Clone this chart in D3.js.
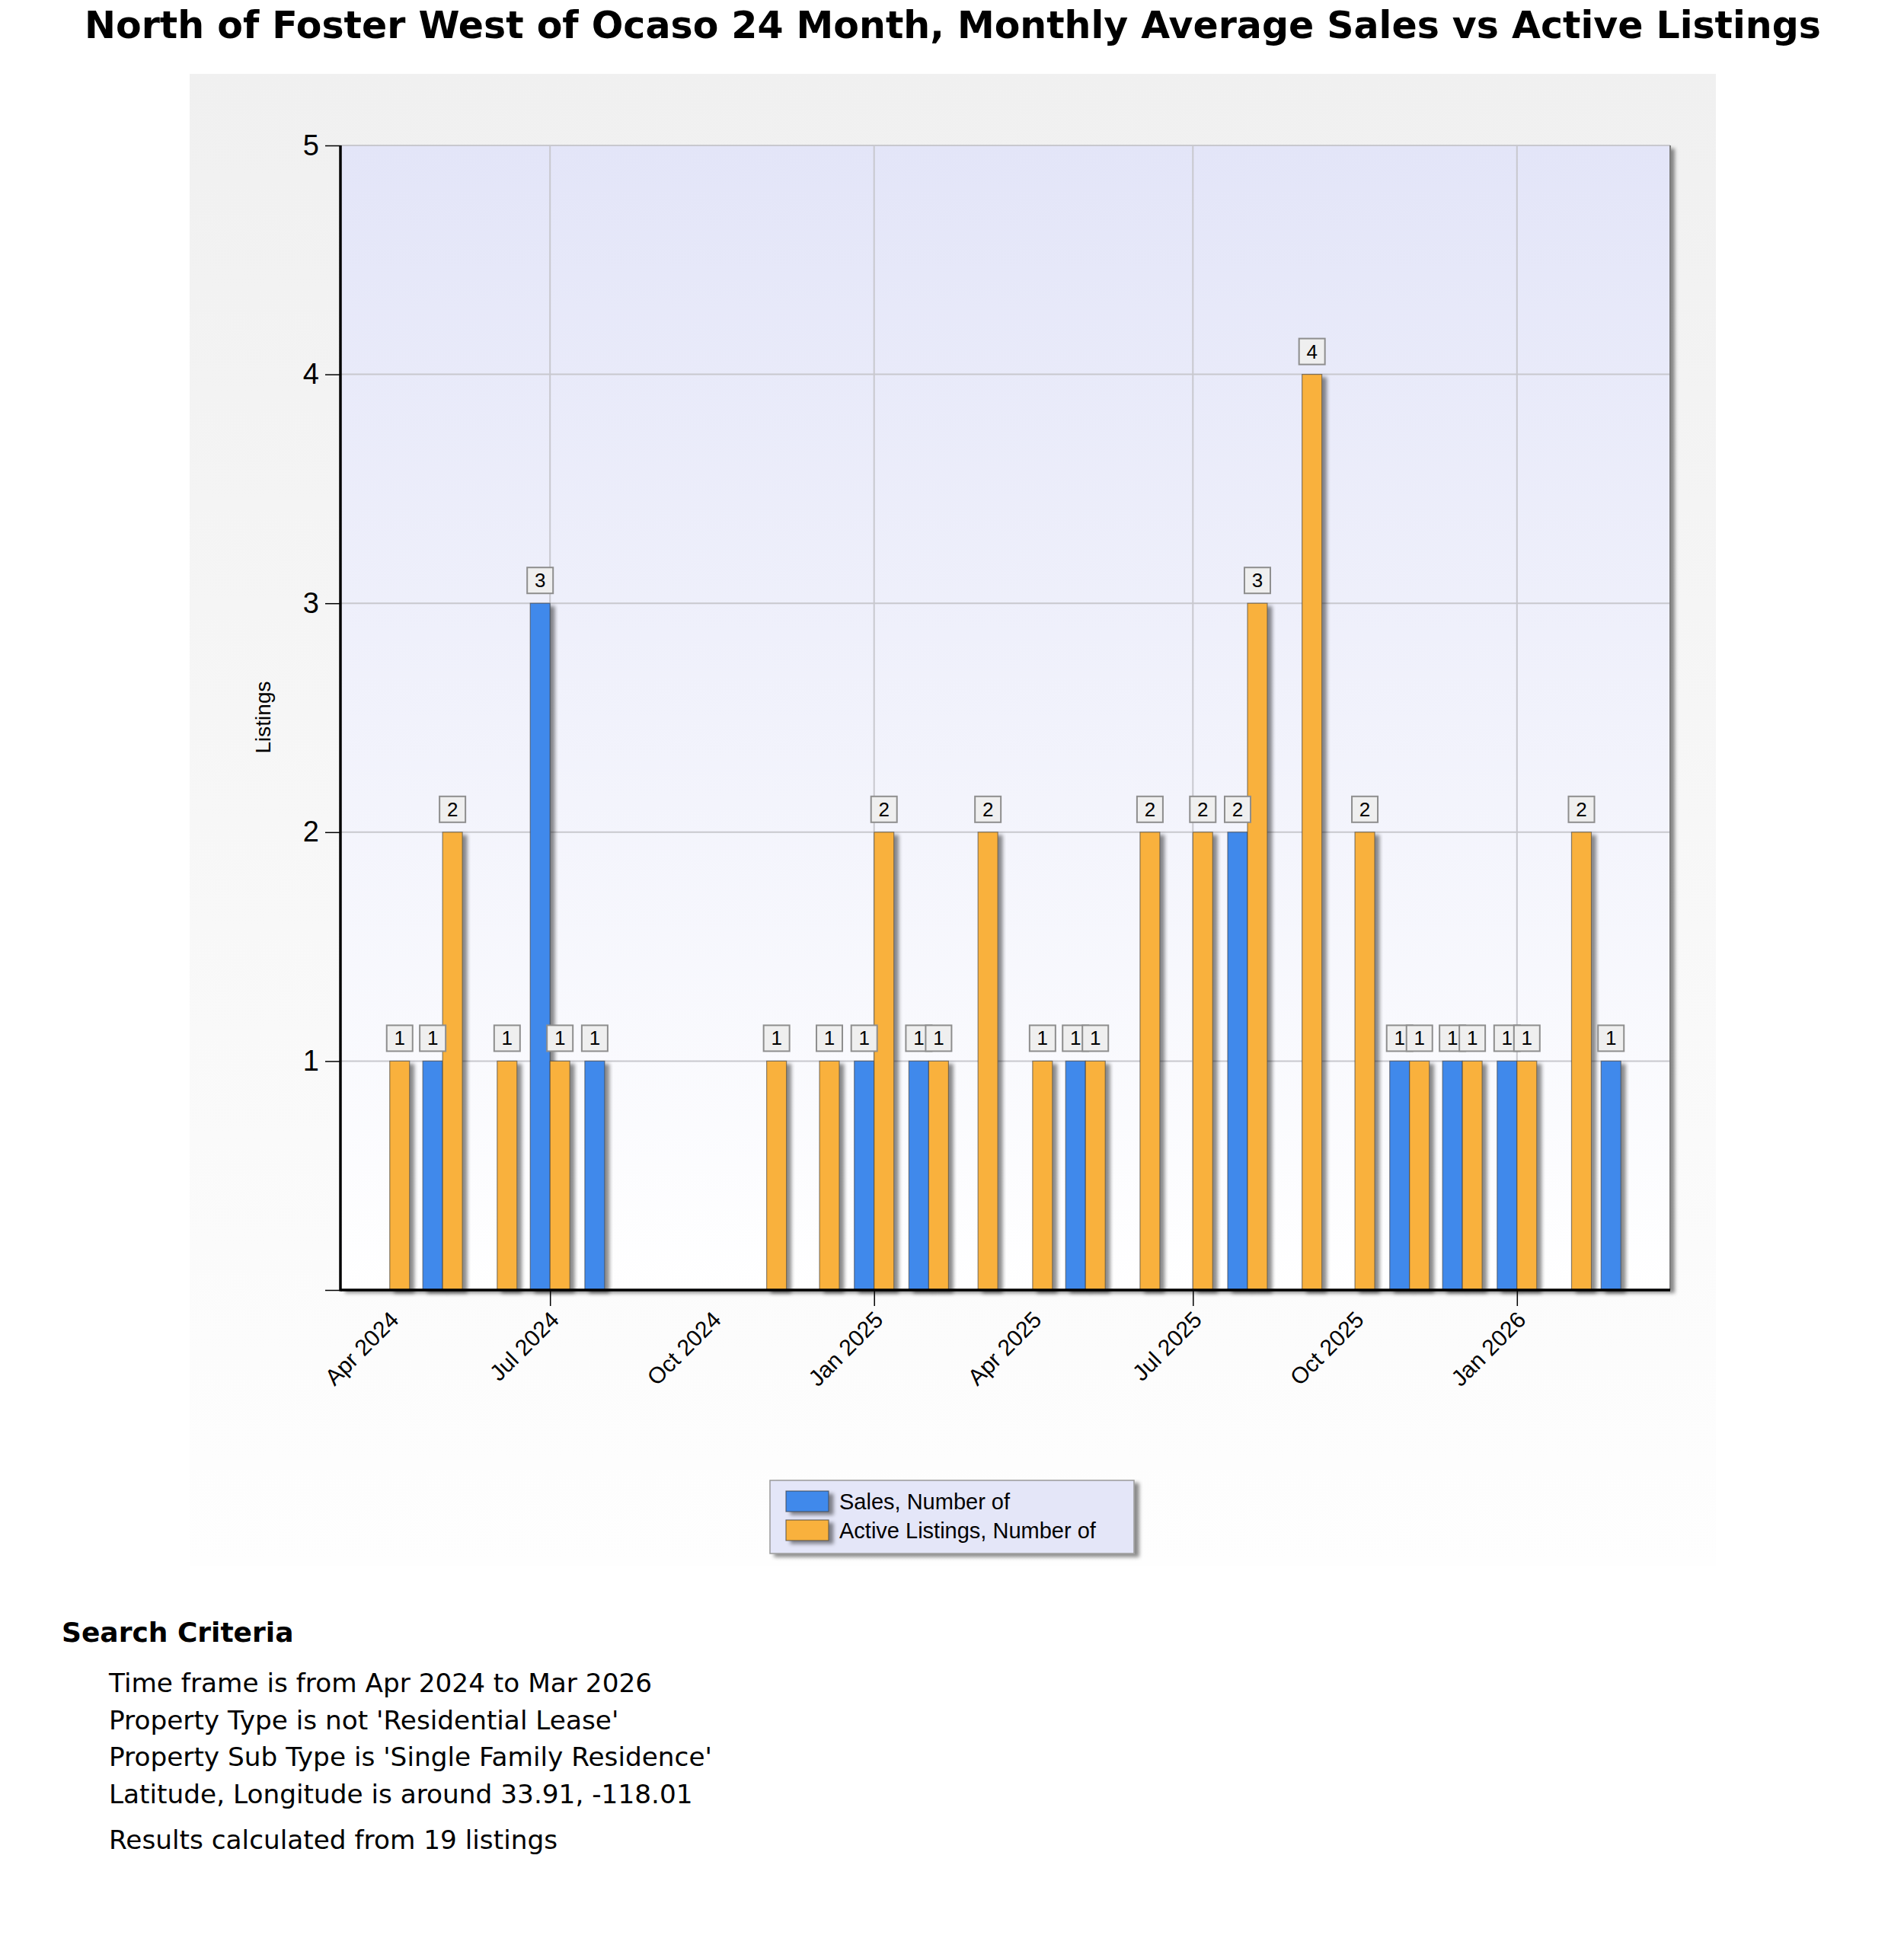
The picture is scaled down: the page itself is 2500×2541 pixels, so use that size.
<!DOCTYPE html>
<html>
<head>
<meta charset="utf-8">
<script src="https://cdn.jsdelivr.net/npm/d3@7"></script>
<style>
  body { margin: 0; background: #fff; }
  #graph { width: 2500px; height: 2541px; }
  .axis text { font-family: "Liberation Sans", Arial, sans-serif; fill: #000; }
  .crit { font-family: "DejaVu Sans", Verdana, sans-serif; fill: #000; }
</style>
</head>
<body>
<div id="graph"></div>
<script>
// data
var months = ["2024-04", "2024-05", "2024-06", "2024-07", "2024-08", "2024-09",
  "2024-10", "2024-11", "2024-12", "2025-01", "2025-02", "2025-03",
  "2025-04", "2025-05", "2025-06", "2025-07", "2025-08", "2025-09",
  "2025-10", "2025-11", "2025-12", "2026-01", "2026-02", "2026-03"];
var sales    = [0, 1, 0, 3, 1, 0, 0, 0, 0, 1, 1, 0, 0, 1, 0, 0, 2, 0, 0, 1, 1, 1, 0, 1];
var listings = [1, 2, 1, 1, 0, 0, 0, 1, 1, 2, 1, 2, 1, 1, 2, 2, 3, 4, 2, 1, 1, 1, 2, 0];
var xTickLabels = ["Apr 2024", "Jul 2024", "Oct 2024", "Jan 2025", "Apr 2025",
  "Jul 2025", "Oct 2025", "Jan 2026"];
var yTicks = [0, 1, 2, 3, 4, 5];
var seriesNames = ["Sales, Number of", "Active Listings, Number of"];
var seriesColors = ["#4189eb", "#f9b13c"];

var titleText = "North of Foster West of Ocaso 24 Month, Monthly Average Sales vs Active Listings";
var criteriaLines = ["Time frame is from Apr 2024 to Mar 2026",
  "Property Type is not 'Residential Lease'",
  "Property Sub Type is 'Single Family Residence'",
  "Latitude, Longitude is around 33.91, -118.01"];
var footText = "Results calculated from 19 listings";

var width = 2500, height = 2541;
var margin = { top: 191, left: 447 };
var chartWidth = 1746, chartHeight = 1503;
var barW = 26;

var parseMonth = d3.timeParse("%Y-%m");
var parseLabel = d3.timeParse("%b %Y");

var svg = d3.select("#graph").append("svg")
  .attr("width", width).attr("height", height);

var defs = svg.append("defs");

var xScale = d3.scaleTime();
var yScale = d3.scaleLinear();

main();

function main() {
  var data = months.map(function(m, i) {
    return { date: parseMonth(m), sales: sales[i], listings: listings[i] };
  });
  initDefs();
  initScale(data);
  renderFrame();
  renderAxis();
  renderChart(data);
  renderLegend();
  renderText();
}

function initDefs() {
  var g1 = defs.append("linearGradient").attr("id", "panelGrad")
    .attr("x1", 0).attr("y1", 0).attr("x2", 0).attr("y2", 1);
  g1.append("stop").attr("offset", "0%").attr("stop-color", "#f0f0f0");
  g1.append("stop").attr("offset", "100%").attr("stop-color", "#fefefe");

  var g2 = defs.append("linearGradient").attr("id", "plotGrad")
    .attr("x1", 0).attr("y1", 0).attr("x2", 0).attr("y2", 1);
  g2.append("stop").attr("offset", "0%").attr("stop-color", "#e3e5f8");
  g2.append("stop").attr("offset", "100%").attr("stop-color", "#ffffff");

  var f = defs.append("filter").attr("id", "shadow")
    .attr("x", "-20%").attr("y", "-20%").attr("width", "160%").attr("height", "160%");
  f.append("feDropShadow").attr("dx", 6).attr("dy", 4).attr("stdDeviation", 2.5)
    .attr("flood-color", "#000").attr("flood-opacity", 0.45);
}

function initScale(data) {
  var first = data[0].date, last = data[data.length - 1].date;
  xScale
    .domain([d3.timeDay.offset(first, -28), d3.timeDay.offset(last, 28)])
    .range([0, chartWidth]);
  yScale.domain([0, 5]).range([chartHeight, 0]);
}

function renderFrame() {
  // gray outer panel
  svg.append("rect")
    .attr("x", 249).attr("y", 97).attr("width", 2004).attr("height", 1960)
    .attr("fill", "url(#panelGrad)");

  var plot = svg.append("g")
    .attr("transform", "translate(" + [margin.left, margin.top] + ")");
  plot.append("rect")
    .attr("width", chartWidth).attr("height", chartHeight)
    .attr("fill", "#fff").attr("filter", "url(#shadow)");
  plot.append("rect")
    .attr("width", chartWidth).attr("height", chartHeight)
    .attr("fill", "url(#plotGrad)");
}

function renderAxis() {
  var layer = svg.append("g")
    .attr("transform", "translate(" + [margin.left, margin.top] + ")");

  var gridDates = xTickLabels.map(parseLabel).filter(function(d) {
    return d.getMonth() === 0 || d.getMonth() === 6;
  });

  // grid lines
  layer.append("g").selectAll("line.h").data(yTicks.slice(1)).enter()
    .append("line")
    .attr("x1", 0).attr("x2", chartWidth)
    .attr("y1", function(d) { return yScale(d); })
    .attr("y2", function(d) { return yScale(d); })
    .attr("stroke", "#c8c8ce").attr("stroke-width", 2);
  layer.append("g").selectAll("line.v").data(gridDates).enter()
    .append("line")
    .attr("x1", function(d) { return xScale(d); })
    .attr("x2", function(d) { return xScale(d); })
    .attr("y1", 0).attr("y2", chartHeight)
    .attr("stroke", "#c8c8ce").attr("stroke-width", 2);

  // right border
  layer.append("line")
    .attr("x1", chartWidth).attr("x2", chartWidth)
    .attr("y1", 0).attr("y2", chartHeight)
    .attr("stroke", "#7d7d7d").attr("stroke-width", 2);

  var yAxis = d3.axisLeft(yScale).tickValues(yTicks).tickSize(20).tickPadding(8)
    .tickFormat(function(d) { return d === 0 ? "" : d; });
  var ya = layer.append("g").attr("class", "axis y").call(yAxis);
  ya.select(".domain").remove();
  ya.selectAll("line").attr("stroke", "#000").attr("stroke-width", 1.5);
  ya.selectAll("text").style("font-size", "38px");

  var xAxis = d3.axisBottom(xScale)
    .tickValues(xTickLabels.map(parseLabel))
    .tickFormat(d3.timeFormat("%b %Y"))
    .tickSize(21);
  var xa = layer.append("g").attr("class", "axis x")
    .attr("transform", "translate(" + [0, chartHeight] + ")")
    .call(xAxis);
  xa.select(".domain").remove();
  xa.selectAll(".tick line")
    .attr("stroke", "#000").attr("stroke-width", 1.5)
    .attr("display", function(d) {
      return (d.getMonth() === 0 || d.getMonth() === 6) ? null : "none";
    });
  xa.selectAll(".tick text")
    .attr("x", 0).attr("y", 0).attr("dy", 0)
    .attr("text-anchor", "end")
    .attr("transform", "translate(13,41) rotate(-45)")
    .style("font-size", "30px");

  // y axis title
  svg.append("text")
    .attr("class", "axis")
    .attr("transform", "translate(355,942) rotate(-90)")
    .attr("text-anchor", "middle")
    .style("font-family", "Liberation Sans, Arial, sans-serif")
    .style("font-size", "28px")
    .text("Listings");
}

function renderChart(data) {
  var chartLayer = svg.append("g").classed("chartLayer", true)
    .attr("transform", "translate(" + [margin.left, margin.top] + ")");

  var bars = [];
  data.forEach(function(d) {
    if (d.sales > 0) bars.push({ date: d.date, value: d.sales, s: 0 });
    if (d.listings > 0) bars.push({ date: d.date, value: d.listings, s: 1 });
  });

  chartLayer.selectAll(".bar").data(bars).enter()
    .append("rect")
    .classed("bar", true)
    .attr("x", function(d) { return xScale(d.date) - (d.s === 0 ? barW : 0); })
    .attr("y", function(d) { return yScale(d.value); })
    .attr("width", barW)
    .attr("height", function(d) { return chartHeight - yScale(d.value); })
    .attr("fill", function(d) { return seriesColors[d.s]; })
    .attr("stroke", "rgba(60,60,60,0.6)").attr("stroke-width", 1.2)
    .attr("filter", "url(#shadow)");

  // axis lines drawn over bars
  chartLayer.append("line")
    .attr("x1", 0).attr("x2", chartWidth)
    .attr("y1", chartHeight).attr("y2", chartHeight)
    .attr("stroke", "#000").attr("stroke-width", 3.5);
  chartLayer.append("line")
    .attr("x1", 0).attr("x2", 0)
    .attr("y1", 0).attr("y2", chartHeight + 1.5)
    .attr("stroke", "#000").attr("stroke-width", 3.5);

  // value boxes
  var lab = chartLayer.selectAll(".lab").data(bars).enter()
    .append("g").classed("lab", true)
    .attr("transform", function(d) {
      var cx = xScale(d.date) + (d.s === 0 ? -barW / 2 : barW / 2);
      return "translate(" + [cx, yScale(d.value) - 13] + ")";
    });
  lab.append("rect")
    .attr("x", -17).attr("y", -34).attr("width", 34).attr("height", 34)
    .attr("fill", "#efefef").attr("stroke", "#8e8e8e").attr("stroke-width", 2);
  lab.append("text")
    .attr("y", -8).attr("text-anchor", "middle")
    .style("font-family", "Liberation Sans, Arial, sans-serif")
    .style("font-size", "26px")
    .text(function(d) { return d.value; });
}

function renderLegend() {
  var lg = svg.append("g").attr("transform", "translate(1011,1944)");
  lg.append("rect")
    .attr("width", 478).attr("height", 96)
    .attr("fill", "#e4e6f8").attr("stroke", "#9a9a9a").attr("stroke-width", 1.5)
    .attr("filter", "url(#shadow)");
  var item = lg.selectAll(".item").data(seriesNames).enter()
    .append("g").attr("class", "item")
    .attr("transform", function(d, i) { return "translate(" + [21, 14 + i * 38] + ")"; });
  item.append("rect")
    .attr("width", 56).attr("height", 27)
    .attr("fill", function(d, i) { return seriesColors[i]; })
    .attr("stroke", "rgba(60,60,60,0.7)").attr("stroke-width", 1.2)
    .attr("filter", "url(#shadow)");
  item.append("text")
    .attr("x", 70).attr("y", 24)
    .style("font-family", "Liberation Sans, Arial, sans-serif")
    .style("font-size", "29px")
    .text(function(d) { return d; });
}

function renderText() {
  svg.append("text")
    .attr("class", "crit")
    .attr("x", 1251).attr("y", 50)
    .attr("text-anchor", "middle")
    .style("font-size", "49px").style("font-weight", "bold")
    .text(titleText);

  svg.append("text")
    .attr("class", "crit")
    .attr("x", 81).attr("y", 2156)
    .style("font-size", "36px").style("font-weight", "bold")
    .text("Search Criteria");

  svg.selectAll(".critLine").data(criteriaLines).enter()
    .append("text")
    .attr("class", "crit critLine")
    .attr("x", 143)
    .attr("y", function(d, i) { return 2222 + i * 48.5; })
    .style("font-size", "34.3px")
    .text(function(d) { return d; });

  svg.append("text")
    .attr("class", "crit")
    .attr("x", 143).attr("y", 2428)
    .style("font-size", "34.3px")
    .text(footText);
}
</script>
</body>
</html>
